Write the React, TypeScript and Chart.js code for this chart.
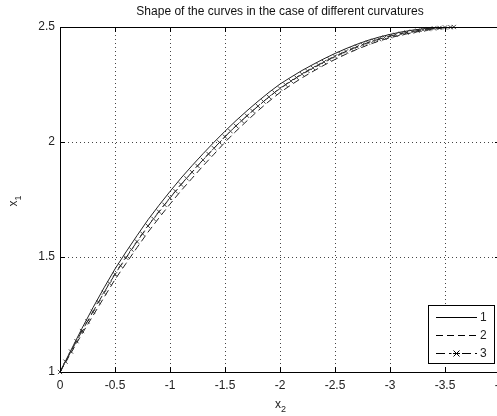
import React, { useEffect, useRef } from "react";
import { Chart, registerables } from "chart.js";

Chart.register(...registerables);

const TITLE = "Shape of the curves in the case of different curvatures";
const X_LABEL = "x";
const X_LABEL_SUB = "2";
const Y_LABEL = "x";
const Y_LABEL_SUB = "1";
const SERIES_NAMES = ["1", "2", "3"];

const X_TICKS = [0, -0.5, -1, -1.5, -2, -2.5, -3, -3.5, -4];
const Y_TICKS = [1, 1.5, 2, 2.5];

// curves 1 and 2
const X2 = [
  0, -0.1, -0.2, -0.3, -0.4, -0.5, -0.6, -0.7, -0.8, -0.9, -1.0, -1.1, -1.2,
  -1.3, -1.4, -1.5, -1.6, -1.7, -1.8, -1.9, -2.0, -2.1, -2.2, -2.3, -2.4, -2.5,
  -2.6, -2.7, -2.8, -2.9, -3.0, -3.1, -3.2, -3.3, -3.4, -3.5, -3.58,
];

const CURVE1 = [
  1.0, 1.095, 1.19, 1.28, 1.366, 1.448, 1.522, 1.593, 1.662, 1.725, 1.785,
  1.843, 1.897, 1.949, 1.999, 2.047, 2.093, 2.136, 2.177, 2.216, 2.252, 2.282,
  2.311, 2.337, 2.362, 2.385, 2.406, 2.425, 2.442, 2.456, 2.468, 2.478, 2.486,
  2.492, 2.496, 2.499, 2.5,
];

const CURVE2 = [
  1.0, 1.083, 1.166, 1.245, 1.324, 1.402, 1.472, 1.541, 1.608, 1.67, 1.73,
  1.788, 1.842, 1.896, 1.947, 1.999, 2.047, 2.092, 2.136, 2.177, 2.215, 2.248,
  2.279, 2.307, 2.334, 2.359, 2.382, 2.403, 2.422, 2.439, 2.453, 2.465, 2.475,
  2.484, 2.491, 2.496, 2.499,
];

// curve 3 (marked), sampled more densely
const X2_CURVE3 = [
  0, -0.05, -0.1, -0.15, -0.2, -0.25, -0.3, -0.35, -0.4, -0.45, -0.5, -0.55,
  -0.6, -0.65, -0.7, -0.75, -0.8, -0.85, -0.9, -0.95, -1.0, -1.05, -1.1, -1.15,
  -1.2, -1.25, -1.3, -1.35, -1.4, -1.45, -1.5, -1.55, -1.6, -1.65, -1.7, -1.75,
  -1.8, -1.85, -1.9, -1.95, -2.0, -2.05, -2.1, -2.15, -2.2, -2.25, -2.3, -2.35,
  -2.4, -2.45, -2.5, -2.55, -2.6, -2.65, -2.7, -2.75, -2.8, -2.85, -2.9, -2.95,
  -3.0, -3.05, -3.1, -3.15, -3.2, -3.25, -3.3, -3.35, -3.4, -3.45, -3.5, -3.55,
  -3.58,
];

const CURVE3 = [
  1.0, 1.045, 1.089, 1.134, 1.178, 1.22, 1.262, 1.304, 1.345, 1.386, 1.425,
  1.462, 1.497, 1.532, 1.567, 1.601, 1.635, 1.666, 1.697, 1.727, 1.757, 1.786,
  1.815, 1.842, 1.869, 1.896, 1.922, 1.948, 1.973, 1.998, 2.023, 2.047, 2.07,
  2.092, 2.114, 2.135, 2.156, 2.176, 2.196, 2.215, 2.233, 2.249, 2.265, 2.28,
  2.295, 2.309, 2.322, 2.335, 2.348, 2.36, 2.372, 2.383, 2.394, 2.404, 2.414,
  2.423, 2.432, 2.44, 2.447, 2.454, 2.46, 2.466, 2.471, 2.476, 2.48, 2.484,
  2.488, 2.491, 2.494, 2.496, 2.498, 2.499, 2.5,
];

const FONT = '"Liberation Sans", Arial, Helvetica, sans-serif';

const framePlugin = {
  id: "matlabFrame",
  afterDraw(chart: any) {
    const { ctx, chartArea } = chart;
    const { left, right, top, bottom } = chartArea;
    const xs = chart.scales.x;
    const ys = chart.scales.y;
    ctx.save();
    ctx.strokeStyle = "#000";
    ctx.lineWidth = 1;
    ctx.setLineDash([]);
    ctx.beginPath();
    ctx.rect(Math.round(left) + 0.5, Math.round(top) + 0.5, Math.round(right - left), Math.round(bottom - top));
    ctx.stroke();
    const tl = 5;
    ctx.beginPath();
    X_TICKS.forEach((v) => {
      const px = Math.round(xs.getPixelForValue(v)) + 0.5;
      ctx.moveTo(px, bottom);
      ctx.lineTo(px, bottom - tl);
      ctx.moveTo(px, top);
      ctx.lineTo(px, top + tl);
    });
    Y_TICKS.forEach((v) => {
      const py = Math.round(ys.getPixelForValue(v)) + 0.5;
      ctx.moveTo(left, py);
      ctx.lineTo(left + tl, py);
      ctx.moveTo(right, py);
      ctx.lineTo(right - tl, py);
    });
    ctx.stroke();

    ctx.fillStyle = "#222";
    ctx.textBaseline = "middle";
    ctx.textAlign = "center";
    const cx = (left + right) / 2;
    ctx.font = `12px ${FONT}`;
    ctx.fillText(X_LABEL, cx - 2, bottom + 33);
    ctx.font = `9px ${FONT}`;
    ctx.fillText(X_LABEL_SUB, cx + 3.5, bottom + 38);

    ctx.save();
    ctx.translate(14, (top + bottom) / 2 + 2);
    ctx.rotate(-Math.PI / 2);
    ctx.font = `12px ${FONT}`;
    ctx.fillText(Y_LABEL, -2, 0);
    ctx.font = `9px ${FONT}`;
    ctx.fillText(Y_LABEL_SUB, 3.5, 5);
    ctx.restore();

    const lx0 = 428.5;
    const ly0 = 305.5;
    const lw = 66;
    const lh = 58;
    ctx.fillStyle = "#fff";
    ctx.fillRect(lx0, ly0, lw, lh);
    ctx.strokeStyle = "#000";
    ctx.lineWidth = 1;
    ctx.strokeRect(lx0, ly0, lw, lh);
    const rows = [ly0 + 11.5, ly0 + 29.5, ly0 + 47.5];
    const sx0 = 436;
    const sx1 = 477;
    const dashes = [[], [7, 4], [9, 4]];
    SERIES_NAMES.forEach((name, i) => {
      const y = Math.round(rows[i]) + 0.5;
      ctx.strokeStyle = "#000";
      ctx.lineWidth = 1;
      ctx.setLineDash(dashes[i]);
      ctx.beginPath();
      ctx.moveTo(sx0, y);
      ctx.lineTo(sx1, y);
      ctx.stroke();
      ctx.setLineDash([]);
      if (i === 2) {
        const mx = (sx0 + sx1) / 2;
        ctx.fillStyle = "#fff";
        ctx.fillRect(mx - 5, y - 3, 10, 6);
        ctx.beginPath();
        ctx.moveTo(mx - 3, y - 3);
        ctx.lineTo(mx + 3, y + 3);
        ctx.moveTo(mx - 3, y + 3);
        ctx.lineTo(mx + 3, y - 3);
        ctx.moveTo(mx - 3.5, y);
        ctx.lineTo(mx + 3.5, y);
        ctx.stroke();
      }
      ctx.fillStyle = "#222";
      ctx.font = `12px ${FONT}`;
      ctx.textAlign = "left";
      ctx.textBaseline = "middle";
      ctx.fillText(name, 480, y);
    });
    ctx.restore();
  },
};

export default function App() {
  const ref = useRef<HTMLCanvasElement | null>(null);

  useEffect(() => {
    if (!ref.current) return;
    const toPts = (xsArr: number[], ys: number[]) => xsArr.map((x, i) => ({ x, y: ys[i] }));
    const chart = new Chart(ref.current, {
      type: "line",
      data: {
        datasets: [
          {
            label: SERIES_NAMES[0],
            data: toPts(X2, CURVE1),
            borderColor: "#222",
            borderWidth: 1,
            pointRadius: 0,
            tension: 0,
            fill: false,
          },
          {
            label: SERIES_NAMES[1],
            data: toPts(X2, CURVE2),
            borderColor: "#222",
            borderWidth: 1,
            borderDash: [7, 4],
            pointRadius: 0,
            tension: 0,
            fill: false,
          },
          {
            label: SERIES_NAMES[2],
            data: toPts(X2_CURVE3, CURVE3),
            borderColor: "#222",
            borderWidth: 1,
            borderDash: [9, 4],
            pointRadius: 0,
            tension: 0,
            fill: false,
          },
          {
            label: SERIES_NAMES[2] + " markers",
            data: toPts(X2_CURVE3, CURVE3),
            showLine: false,
            borderColor: "#444",
            backgroundColor: "#444",
            pointRadius: 3,
            pointStyle: "crossRot",
            pointBorderColor: "#444",
            pointBorderWidth: 1,
            clip: 6,
          },
        ] as any,
      },
      options: {
        animation: false,
        responsive: false,
        devicePixelRatio: 1,
        parsing: false,
        layout: { padding: { left: 0, right: 20, top: 0, bottom: 0 } },
        plugins: {
          legend: { display: false },
          tooltip: { enabled: false },
          title: {
            display: true,
            text: TITLE,
            fullSize: false,
            color: "#111",
            font: { family: FONT, size: 12, weight: "normal" },
            padding: { top: 4.3, bottom: 8.3 },
          },
        },
        scales: {
          x: {
            type: "linear",
            min: -4,
            max: 0,
            reverse: true,
            afterBuildTicks: (s: any) => {
              s.ticks = X_TICKS.map((v) => ({ value: v }));
            },
            afterFit: (s: any) => {
              s.height = 44;
            },
            grid: { color: "#444", lineWidth: 1, drawTicks: false },
            border: { display: false, dash: [1, 3] },
            ticks: {
              padding: 6,
              color: "#222",
              font: { family: FONT, size: 12 },
              maxRotation: 0,
              autoSkip: false,
              callback: (v: any) => String(v),
            },
          },
          y: {
            type: "linear",
            min: 1,
            max: 2.5,
            afterBuildTicks: (s: any) => {
              s.ticks = Y_TICKS.map((v) => ({ value: v }));
            },
            afterFit: (s: any) => {
              s.width = 60;
            },
            grid: { color: "#444", lineWidth: 1, drawTicks: false },
            border: { display: false, dash: [1, 3] },
            ticks: {
              padding: 5,
              color: "#222",
              font: { family: FONT, size: 12 },
              autoSkip: false,
              callback: (v: any) => String(v),
            },
          },
        },
      } as any,
      plugins: [framePlugin],
    });
    return () => chart.destroy();
  }, []);

  return (
    <div
      style={{
        position: "absolute",
        left: 0,
        top: 0,
        width: 497,
        height: 416,
        overflow: "hidden",
        background: "#fff",
      }}
    >
      <canvas ref={ref} width={520} height={416} style={{ width: 520, height: 416, display: "block" }} />
    </div>
  );
}
